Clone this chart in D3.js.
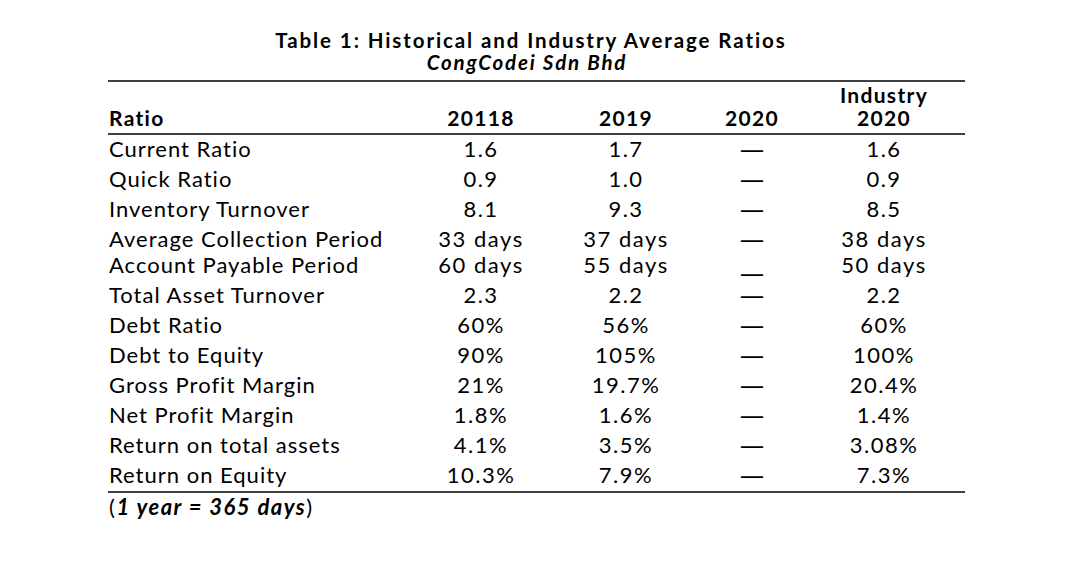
<!DOCTYPE html>
<html>
<head>
<meta charset="utf-8">
<script src="https://cdn.jsdelivr.net/npm/d3@7"></script>
<style>
  html, body { margin: 0; padding: 0; background: #ffffff; }
  svg { display: block; }
  text { font-family: Lato, "Noto Sans", sans-serif; fill: #000; }
</style>
</head>
<body>
<svg id="chart" width="1074" height="584"></svg>
<script>
// ---- data ----
const title = "Table 1: Historical and Industry Average Ratios";
const subtitle = "CongCodei Sdn Bhd";
const columns = ["Ratio", "20118", "2019", "2020", "Industry 2020"];
const ratios = [
  "Current Ratio", "Quick Ratio", "Inventory Turnover", "Average Collection Period",
  "Account Payable Period", "Total Asset Turnover", "Debt Ratio", "Debt to Equity",
  "Gross Profit Margin", "Net Profit Margin", "Return on total assets", "Return on Equity"
];
const values2018 = ["1.6", "0.9", "8.1", "33 days", "60 days", "2.3", "60%", "90%", "21%", "1.8%", "4.1%", "10.3%"];
const values2019 = ["1.7", "1.0", "9.3", "37 days", "55 days", "2.2", "56%", "105%", "19.7%", "1.6%", "3.5%", "7.9%"];
const values2020 = ["—", "—", "—", "—", "—", "—", "—", "—", "—", "—", "—", "—"];
const valuesIndustry = ["1.6", "0.9", "8.5", "38 days", "50 days", "2.2", "60%", "100%", "20.4%", "1.4%", "3.08%", "7.3%"];
const footnote = ["(", "1 year = 365 days", ")"];

// ---- layout ----
const svg = d3.select("#chart");
const left = 108, right = 965;

const colX = d3.scaleOrdinal()
  .domain(columns)
  .range([109, 481, 626, 752, 884]);

// row baselines: 30px pitch, the two "Period" rows are set tighter
const rowY = d3.scaleLinear().domain([0, 1]).range([157, 187]);
const yOf = i => rowY(i) - (i >= 4 ? 4 : 0);

// title
svg.append("text")
  .attr("x", 531).attr("y", 48)
  .attr("text-anchor", "middle")
  .style("font-weight", 700).style("font-size", "20.5px").style("letter-spacing", "1.9px")
  .text(title);
svg.append("text")
  .attr("x", 527).attr("y", 70)
  .attr("text-anchor", "middle")
  .style("font-weight", 700).style("font-style", "italic").style("font-size", "20.5px")
  .style("letter-spacing", "1.8px")
  .text(subtitle);

// rules
const rules = [81, 134, 492];
svg.selectAll("line.rule").data(rules).join("line")
  .attr("class", "rule")
  .attr("x1", left).attr("x2", right)
  .attr("y1", d => d).attr("y2", d => d)
  .attr("stroke", "#000").attr("stroke-width", 1.3);

// header
const headerG = svg.append("g").style("font-weight", 700).style("font-size", "21px")
  .style("letter-spacing", "1.3px");
headerG.append("text").attr("x", colX("Ratio")).attr("y", 126).text("Ratio");
["20118", "2019", "2020"].forEach(c => {
  headerG.append("text").attr("x", colX(c)).attr("y", 126)
    .attr("text-anchor", "middle").text(c);
});
headerG.append("text").attr("x", colX("Industry 2020")).attr("y", 103)
  .attr("text-anchor", "middle").text("Industry");
headerG.append("text").attr("x", colX("Industry 2020")).attr("y", 126)
  .attr("text-anchor", "middle").text("2020");

// body
const bodyG = svg.append("g").style("font-size", "22px");
bodyG.selectAll("text.ratio").data(ratios).join("text")
  .attr("class", "ratio")
  .attr("x", colX("Ratio"))
  .attr("y", (d, i) => yOf(i))
  .style("letter-spacing", "1px")
  .text(d => d);

const series = [
  { col: "20118", vals: values2018 },
  { col: "2019", vals: values2019 },
  { col: "Industry 2020", vals: valuesIndustry }
];
series.forEach(s => {
  bodyG.selectAll(null).data(s.vals).join("text")
    .attr("x", colX(s.col))
    .attr("y", (d, i) => yOf(i))
    .attr("text-anchor", "middle")
    .style("letter-spacing", "1.5px")
    .text(d => d);
});

// 2020 column: em dashes stretched to the reference width
bodyG.selectAll("text.dash").data(values2020).join("text")
  .attr("class", "dash")
  .attr("x", colX("2020") - 13)
  .attr("y", (d, i) => yOf(i) + (i === 4 ? 8 : 0))
  .attr("textLength", 26)
  .attr("lengthAdjust", "spacingAndGlyphs")
  .style("font-size", "19px")
  .style("font-weight", 700)
  .text(d => d);

// footnote
const foot = svg.append("text").attr("x", 109).attr("y", 515).style("font-size", "22px")
  .style("letter-spacing", "1.5px");
foot.append("tspan").text(footnote[0]);
foot.append("tspan").style("font-weight", 700).style("font-style", "italic").text(footnote[1]);
foot.append("tspan").text(footnote[2]);
</script>
</body>
</html>
